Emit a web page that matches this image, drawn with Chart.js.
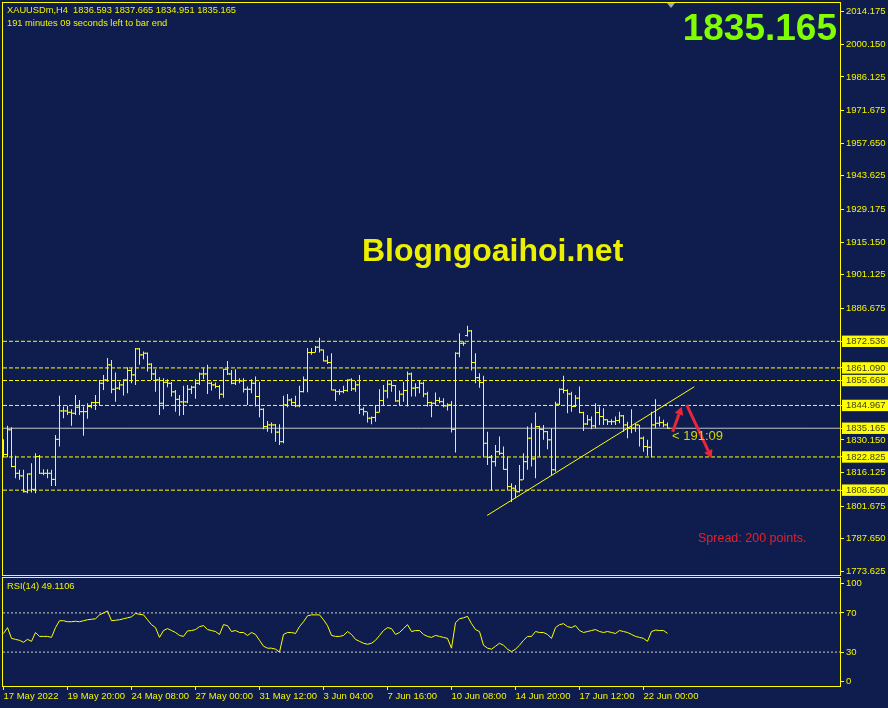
<!DOCTYPE html>
<html>
<head>
<meta charset="utf-8">
<script src="https://cdn.jsdelivr.net/npm/chart.js@4.4.0/dist/chart.umd.min.js"></script>
<style>
  html, body { margin: 0; padding: 0; background: #0e1d4d; }
  #wrap { position: relative; width: 888px; height: 708px; overflow: hidden; background: #0e1d4d;
          font-family: 'Liberation Sans', Arial, sans-serif; }
  #mainChart { position: absolute; left: 0; top: 0; }
  #rsiChart { position: absolute; left: 0; top: 577px; }
  .txt { position: absolute; white-space: nowrap; line-height: 1; }
</style>
</head>
<body>
<div id="wrap">
  <canvas id="mainChart" width="888" height="577"></canvas>
  <canvas id="rsiChart" width="888" height="131"></canvas>
  <div class="txt" style="left:7px;top:6px;font-size:9.3px;color:#f4f400">XAUUSDm,H4&nbsp;&nbsp;1836.593 1837.665 1834.951 1835.165</div>
  <div class="txt" style="left:7px;top:19px;font-size:9.3px;color:#f4f400">191 minutes 09 seconds left to bar end</div>
  <div class="txt" style="right:51px;top:9px;font-size:37px;font-weight:bold;color:#7fff00">1835.165</div>
  <div class="txt" style="left:362px;top:234px;font-size:32px;font-weight:bold;color:#ecf000">Blogngoaihoi.net</div>
  <div class="txt" style="left:672px;top:429px;font-size:13px;color:#d0d800">&lt; 191:09</div>
  <div class="txt" style="left:698px;top:532px;font-size:12.5px;color:#e8202a">Spread: 200 points.</div>
  <div class="txt" style="left:7px;top:582px;font-size:9.3px;color:#f4f400">RSI(14) 49.1106</div>
  <div style="position:absolute;left:667px;top:3px;width:0;height:0;border-left:4px solid transparent;border-right:4px solid transparent;border-top:5px solid #a8a8a8"></div>
</div>
<script>
// H4 bars, one per index
var opens = [
  1825.9,1823.9,1834.5,1818.7,1815.8,1814.7,1807.9,1815.5,1808.9,1823.0,
  1815.8,1815.8,1815.8,1813.2,1830.4,1842.6,1842.6,1842.0,1841.6,1844.2,
  1842.3,1842.3,1844.5,1846.2,1846.2,1854.5,1855.9,1862.4,1851.9,1852.4,
  1853.8,1855.9,1860.0,1858.1,1869.3,1866.7,1867.4,1862.7,1858.5,1855.9,
  1845.9,1854.9,1854.5,1850.8,1847.6,1846.5,1846.5,1851.9,1852.8,1854.5,
  1858.5,1858.5,1854.5,1853.8,1853.1,1849.8,1860.5,1858.5,1854.5,1855.7,
  1855.5,1851.9,1851.9,1854.5,1848.8,1843.3,1835.9,1836.6,1836.6,1833.5,
  1829.4,1845.2,1847.3,1846.2,1844.8,1850.9,1855.9,1867.7,1867.7,1870.0,
  1868.8,1864.1,1863.4,1851.6,1850.9,1850.9,1851.4,1855.9,1852.1,1853.8,
  1843.3,1842.3,1839.5,1839.8,1842.0,1847.1,1851.2,1854.1,1853.5,1846.9,
  1849.8,1851.4,1858.5,1852.4,1852.6,1854.5,1849.9,1846.2,1845.9,1847.1,
  1846.6,1844.8,1845.2,1834.7,1867.4,1871.7,1875.0,1877.0,1863.4,1856.9,
  1854.8,1828.7,1822.7,1820.8,1825.1,1824.4,1817.5,1810.1,1809.4,1807.9,
  1813.0,1820.8,1830.9,1822.0,1835.9,1834.7,1833.7,1830.2,1817.3,1845.5,
  1851.9,1851.4,1849.9,1844.5,1848.1,1841.9,1837.0,1838.8,1836.2,1841.9,
  1840.2,1838.8,1838.0,1838.0,1838.5,1840.5,1836.6,1835.2,1835.2,1836.6,
  1830.9,1827.3,1827.0,1836.6,1837.3,1837.6,1836.593
];
var highs = [
  1830.4,1836.2,1835.6,1823.3,1817.3,1817.3,1815.8,1820.1,1824.4,1823.7,
  1817.5,1817.5,1817.3,1832.3,1849.1,1844.5,1844.8,1843.3,1849.5,1847.3,
  1844.5,1845.9,1846.6,1849.5,1855.7,1858.1,1865.3,1864.5,1859.1,1855.2,
  1856.2,1861.4,1861.0,1869.6,1869.6,1868.1,1867.7,1863.1,1860.5,1857.1,
  1856.7,1856.2,1855.0,1851.6,1849.5,1853.4,1853.8,1853.4,1856.2,1859.1,
  1861.0,1862.4,1855.2,1854.8,1853.8,1860.7,1864.1,1860.2,1860.5,1856.7,
  1856.7,1853.1,1856.2,1857.4,1855.2,1843.8,1838.3,1837.6,1837.0,1836.9,
  1849.1,1849.9,1848.1,1849.1,1853.4,1857.4,1869.6,1869.6,1870.5,1874.1,
  1869.0,1866.3,1867.4,1851.9,1851.9,1853.4,1856.2,1856.7,1855.5,1858.1,
  1844.2,1842.3,1840.2,1845.2,1851.9,1853.8,1855.7,1855.7,1853.8,1851.4,
  1855.2,1859.5,1859.1,1854.5,1855.5,1855.2,1850.9,1846.6,1850.5,1848.5,
  1848.1,1845.9,1846.9,1867.8,1876.0,1872.4,1879.2,1877.4,1867.4,1858.8,
  1857.7,1833.7,1823.7,1828.0,1831.6,1827.3,1823.0,1811.5,1810.8,1819.4,
  1824.4,1835.9,1837.3,1841.9,1836.2,1836.6,1834.0,1835.2,1846.6,1852.4,
  1857.7,1851.9,1850.9,1849.5,1853.1,1842.3,1840.9,1840.2,1845.9,1844.5,
  1843.8,1839.0,1839.0,1840.2,1842.3,1840.9,1838.0,1843.3,1837.3,1836.6,
  1831.6,1830.2,1842.3,1847.6,1840.2,1838.8,1837.665
];
var lows = [
  1822.7,1822.7,1818.4,1813.7,1813.0,1807.5,1807.2,1807.5,1807.2,1815.5,
  1815.0,1813.7,1810.4,1810.4,1827.3,1839.5,1840.9,1836.2,1840.9,1840.9,
  1831.9,1839.2,1843.8,1843.0,1845.2,1851.6,1855.2,1850.2,1846.6,1851.6,
  1849.2,1850.2,1854.5,1853.8,1862.4,1864.8,1859.5,1855.9,1850.9,1840.9,
  1843.3,1852.8,1848.8,1842.3,1840.5,1840.9,1845.9,1849.9,1847.8,1853.8,
  1856.2,1849.9,1851.4,1852.4,1847.6,1848.3,1858.1,1854.1,1853.8,1854.5,
  1850.5,1845.2,1850.2,1844.5,1839.9,1834.7,1833.7,1833.0,1829.4,1828.0,
  1828.7,1844.2,1845.2,1844.2,1844.2,1850.5,1850.6,1866.7,1867.7,1867.7,
  1863.8,1862.8,1851.4,1846.9,1849.5,1850.2,1850.9,1851.2,1850.9,1841.3,
  1840.6,1837.6,1836.9,1838.0,1841.9,1844.8,1848.1,1850.9,1846.6,1844.8,
  1846.6,1844.5,1848.8,1848.8,1850.2,1848.5,1844.5,1839.9,1845.2,1845.9,
  1844.2,1842.8,1833.3,1824.7,1865.7,1870.6,1874.6,1860.0,1854.5,1852.6,
  1822.7,1819.4,1808.4,1818.7,1823.7,1817.3,1808.7,1803.5,1805.1,1807.5,
  1813.0,1817.3,1818.7,1813.7,1823.0,1830.2,1826.1,1815.1,1816.5,1845.2,
  1850.2,1841.6,1842.3,1844.3,1841.6,1834.0,1836.6,1834.7,1835.2,1836.6,
  1836.6,1836.6,1836.6,1836.6,1837.3,1833.7,1830.9,1833.0,1833.7,1827.3,
  1825.1,1823.3,1822.7,1835.2,1835.9,1835.6,1834.951
];
var closes = [
  1823.9,1834.5,1818.7,1815.8,1814.7,1807.9,1815.5,1808.9,1823.0,1815.8,
  1815.8,1815.8,1813.2,1830.4,1842.6,1842.6,1842.0,1841.6,1844.2,1842.3,
  1842.3,1844.5,1846.2,1846.2,1854.5,1855.9,1862.4,1851.9,1852.4,1853.8,
  1855.9,1860.0,1858.1,1869.3,1866.7,1867.4,1862.7,1858.5,1855.9,1845.9,
  1854.9,1854.5,1850.8,1847.6,1846.5,1846.5,1851.9,1852.8,1854.5,1858.5,
  1858.5,1854.5,1853.8,1853.1,1849.8,1860.5,1858.5,1854.5,1855.7,1855.5,
  1851.9,1851.9,1854.5,1848.8,1843.3,1835.9,1836.6,1836.6,1833.5,1829.4,
  1845.2,1847.3,1846.2,1844.8,1850.9,1855.9,1867.7,1867.7,1870.0,1868.8,
  1864.1,1863.4,1851.6,1850.9,1850.9,1851.4,1855.9,1852.1,1853.8,1843.3,
  1842.3,1839.5,1839.8,1842.0,1847.1,1851.2,1854.1,1853.5,1846.9,1849.8,
  1851.4,1858.5,1852.4,1852.6,1854.5,1849.9,1846.2,1845.9,1847.1,1846.6,
  1844.8,1845.2,1834.7,1867.4,1871.7,1871.7,1877.0,1863.4,1856.9,1854.8,
  1828.7,1822.7,1820.8,1825.1,1824.4,1817.5,1810.1,1809.4,1807.9,1813.0,
  1820.8,1830.9,1822.0,1835.9,1834.7,1833.7,1830.2,1817.3,1845.5,1851.9,
  1851.4,1849.9,1844.5,1848.1,1841.9,1837.0,1838.8,1836.2,1841.9,1840.2,
  1838.8,1838.0,1838.0,1838.5,1840.5,1836.6,1835.2,1835.2,1836.6,1830.9,
  1827.3,1827.0,1836.6,1837.3,1837.6,1836.6,1835.165
];
var rsi = [
  49,55,44,43,42,40,43,41,50,46,
  46,46,45,55,62,62,61,61,61.5,61,
  62,63,63.5,64,68,70,72,62,62.5,63,
  64,65,66,69.5,68.5,68,63,58,55,45,
  52,54,52,50,47,46,51.6,52,53,56,
  57,53,52,51,48,58,57,51,52,50,
  50,47,50,48,42,36,34,34,33,30,
  48,50,50,49,56,61,67,68,68,68,
  63,57,47,46,46,47,51,48,43,41,
  39,38,39,42,47,52,55,54,48,50,
  54,58,51,52,52,48,46,45,47,46,
  45,44,34,60,64,65,66.5,59,53,51,
  37,34,33,36,39,37,33,30.5,33,37,
  42,46,46,51,50,50,48,44,55,58,
  59,56,55,57,52,50,51,52,53,51,
  50,51,50,49,52,51,50,48,46,45,
  44,41,51,52.5,52,52,49.11
];

var priceTicks = [2014.175, 2000.150, 1986.125, 1971.675, 1957.650, 1943.625, 1929.175, 1915.150,
  1901.125, 1886.675, 1872.536, 1861.090, 1855.668, 1844.967, 1835.165, 1830.150, 1822.825,
  1816.125, 1808.560, 1801.675, 1787.650, 1773.625];
var levels = [1872.536, 1861.090, 1855.668, 1844.967, 1822.825, 1808.560];
var bidPrice = 1835.165;
var trendLine = [{x: 120.9, y: 1797.7}, {x: 172.7, y: 1853.0}];
var rsiTicks = [0, 30, 70, 100];
var rsiLevels = [30, 70];
var timeTickIdx = [0, 16, 32, 48, 64, 80, 96, 112, 128, 144, 160];
var timeLabels = ['17 May 2022', '19 May 20:00', '24 May 08:00', '27 May 00:00', '31 May 12:00',
  '3 Jun 04:00', '7 Jun 16:00', '10 Jun 08:00', '14 Jun 20:00', '17 Jun 12:00', '22 Jun 00:00'];

var YELLOW = '#ffff00';
var LABEL = '#f4f400';
var FONT = "'Liberation Sans', Arial, sans-serif";
var X_MIN = -0.125, X_MAX = 209.125;

function isLevel(v) {
  return levels.concat([bidPrice]).some(function(l) { return Math.abs(l - v) < 0.0005; });
}

function hline(y) {
  return [{x: X_MIN, y: y}, {x: X_MAX, y: y}];
}

// keep the plot area exactly where the padding puts it
function noScalePadding(s) {
  s.paddingTop = 0;
  s.paddingBottom = 0;
  s.paddingLeft = 0;
  s.paddingRight = 0;
}

var framePlugin = {
  id: 'frame',
  afterDraw: function(chart) {
    var a = chart.chartArea, ctx = chart.ctx;
    ctx.save();
    ctx.strokeStyle = YELLOW;
    ctx.lineWidth = 1;
    ctx.strokeRect(a.left - 0.5, a.top - 0.5, a.right - a.left + 1, a.bottom - a.top + 1);
    ctx.restore();
  }
};

// red hand-drawn arrows, given in bar index / price
var arrowPlugin = {
  id: 'arrows',
  afterDatasetsDraw: function(chart) {
    var xs = chart.scales.x, ys = chart.scales.y, ctx = chart.ctx;
    var arrows = [[167.3, 1833.7, 169.55, 1844.4], [170.8, 1845.2, 177.05, 1822.3]];
    ctx.save();
    arrows.forEach(function(a) {
      var x0 = xs.getPixelForValue(a[0]), y0 = ys.getPixelForValue(a[1]);
      var x1 = xs.getPixelForValue(a[2]), y1 = ys.getPixelForValue(a[3]);
      var ang = Math.atan2(y1 - y0, x1 - x0);
      var hx = x1 - Math.cos(ang) * 8, hy = y1 - Math.sin(ang) * 8;
      ctx.strokeStyle = '#e8283a';
      ctx.lineWidth = 3;
      ctx.beginPath();
      ctx.moveTo(x0, y0);
      ctx.lineTo(hx, hy);
      ctx.stroke();
      ctx.fillStyle = '#e8283a';
      ctx.beginPath();
      ctx.moveTo(x1, y1);
      ctx.lineTo(hx + Math.sin(ang) * 4.5, hy - Math.cos(ang) * 4.5);
      ctx.lineTo(hx - Math.sin(ang) * 4.5, hy + Math.cos(ang) * 4.5);
      ctx.closePath();
      ctx.fill();
    });
    ctx.restore();
  }
};

var tickFont = {family: FONT, size: 9.5};

var mainDatasets = [
  {
    type: 'line', data: trendLine, borderColor: YELLOW, borderWidth: 1,
    pointRadius: 0, order: 0
  },
  {
    type: 'bar',
    data: highs.map(function(h, i) { return {x: i, y: [lows[i], h]}; }),
    backgroundColor: YELLOW, borderWidth: 0, barThickness: 1, inflateAmount: 0, order: 1
  },
  {
    type: 'scatter',
    data: opens.map(function(o, i) { return {x: i - 0.375, y: o}; }),
    pointStyle: 'line', pointRadius: 1, borderColor: YELLOW, borderWidth: 1, order: 2
  },
  {
    type: 'scatter',
    data: closes.map(function(c, i) { return {x: i + 0.375, y: c}; }),
    pointStyle: 'line', pointRadius: 1, borderColor: YELLOW, borderWidth: 1, order: 2
  },
  {
    type: 'line', data: hline(bidPrice), borderColor: '#c4c4c4', borderWidth: 1,
    pointRadius: 0, order: 4
  }
];
levels.forEach(function(l) {
  mainDatasets.push({
    type: 'line', data: hline(l), borderColor: YELLOW, borderWidth: 1, borderDash: [4, 2],
    pointRadius: 0, order: 3
  });
});

var mainChart = new Chart(document.getElementById('mainChart'), {
  type: 'bar',
  data: {datasets: mainDatasets},
  options: {
    responsive: false,
    animation: false,
    devicePixelRatio: 1,
    events: [],
    elements: {point: {hoverRadius: 0, hitRadius: 0}},
    layout: {padding: {left: 3, top: 3, right: 0, bottom: 2}},
    plugins: {legend: {display: false}, tooltip: {enabled: false}},
    scales: {
      x: {
        type: 'linear', min: X_MIN, max: X_MAX, offset: false, display: false,
        grid: {offset: false}
      },
      y: {
        position: 'right', min: 1772.10, max: 2017.91,
        afterFit: function(s) { s.width = 48; noScalePadding(s); },
        afterBuildTicks: function(s) {
          s.ticks = priceTicks.slice().sort(function(a, b) { return a - b; })
            .map(function(v) { return {value: v}; });
        },
        border: {display: false},
        grid: {drawOnChartArea: false, drawTicks: true, tickLength: 4, color: YELLOW},
        ticks: {
          autoSkip: false, padding: 2, font: tickFont,
          color: function(c) { return isLevel(c.tick.value) ? '#404020' : LABEL; },
          showLabelBackdrop: function(c) { return isLevel(c.tick.value); },
          backdropColor: YELLOW,
          backdropPadding: {left: 4, right: 3, top: 0, bottom: 0},
          callback: function(v) { return v.toFixed(3); }
        }
      }
    }
  },
  plugins: [framePlugin, arrowPlugin]
});

var rsiDatasets = [
  {
    data: rsi.map(function(v, i) { return {x: i, y: v}; }),
    borderColor: YELLOW, borderWidth: 1, pointRadius: 0, tension: 0
  }
];
rsiLevels.forEach(function(l) {
  rsiDatasets.push({
    data: hline(l), borderColor: '#cfcfcf', borderWidth: 1, borderDash: [2, 2], pointRadius: 0
  });
});

var rsiChart = new Chart(document.getElementById('rsiChart'), {
  type: 'line',
  data: {datasets: rsiDatasets},
  options: {
    responsive: false,
    animation: false,
    devicePixelRatio: 1,
    events: [],
    elements: {point: {hoverRadius: 0, hitRadius: 0}},
    layout: {padding: {left: 3, top: 1, right: 0, bottom: 0}},
    plugins: {legend: {display: false}, tooltip: {enabled: false}},
    scales: {
      x: {
        type: 'linear', min: X_MIN, max: X_MAX, offset: false,
        afterFit: function(s) { s.height = 22; noScalePadding(s); },
        afterBuildTicks: function(s) {
          s.ticks = timeTickIdx.map(function(v) { return {value: v}; });
        },
        border: {display: false},
        grid: {drawOnChartArea: false, tickLength: 4, color: YELLOW},
        ticks: {
          autoSkip: false, maxRotation: 0, align: 'start', padding: 1, font: tickFont, color: LABEL,
          callback: function(v) {
            var k = timeTickIdx.indexOf(v);
            return k < 0 ? '' : timeLabels[k];
          }
        }
      },
      y: {
        position: 'right', min: -4.59, max: 105.61,
        afterFit: function(s) { s.width = 48; noScalePadding(s); },
        afterBuildTicks: function(s) {
          s.ticks = rsiTicks.map(function(v) { return {value: v}; });
        },
        border: {display: false},
        grid: {drawOnChartArea: false, tickLength: 4, color: YELLOW},
        ticks: {autoSkip: false, padding: 2, font: tickFont, color: LABEL}
      }
    }
  },
  plugins: [framePlugin]
});
</script>
</body>
</html>
